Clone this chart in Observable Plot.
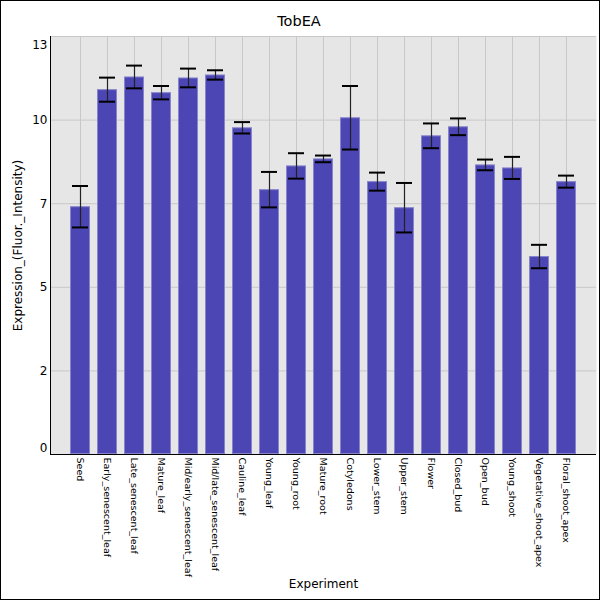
<!DOCTYPE html>
<html>
<head>
<meta charset="utf-8">
<script src="https://cdn.jsdelivr.net/npm/d3@7"></script>
<script src="https://cdn.jsdelivr.net/npm/@observablehq/plot@0.6"></script>
<style>
  html, body { margin: 0; padding: 0; background: #fff; }
  #wrap { width: 598px; height: 598px; border: 1px solid #000; overflow: hidden; background: #fff; }
  #wrap svg { display: block; font-family: "DejaVu Sans", sans-serif; }
</style>
</head>
<body>
<div id="wrap"></div>
<script>
const categories = ["Seed", "Early_senescent_leaf", "Late_senescent_leaf", "Mature_leaf",
  "Mid/early_senescent_leaf", "Mid/late_senescent_leaf", "Cauline_leaf", "Young_leaf",
  "Young_root", "Mature_root", "Cotyledons", "Lower_stem", "Upper_stem", "Flower",
  "Closed_bud", "Open_bud", "Young_shoot", "Vegetative_shoot_apex", "Floral_shoot_apex"];
const means  = [7.41, 10.91, 11.29, 10.82, 11.26, 11.35, 9.77, 7.92, 8.63, 8.84,
  10.07, 8.16, 7.38, 9.53, 9.80, 8.66, 8.57, 5.92, 8.16];
const errors = [0.62, 0.36, 0.34, 0.20, 0.28, 0.14, 0.17, 0.53, 0.38, 0.10,
  0.95, 0.27, 0.74, 0.37, 0.25, 0.16, 0.33, 0.35, 0.18];
const yTicks = [0, 2.5, 5, 7.5, 10, 12.5];
const yTickLabels = ["0", "2", "5", "7", "10", "13"];
const title = "TobEA";
const xLabel = "Experiment";
const yLabel = "Expression_(Fluor._Intensity)";

const data = categories.map((c, i) => ({cat: c, v: means[i], lo: means[i] - errors[i], hi: means[i] + errors[i]}));
const fmt = d => yTickLabels[yTicks.indexOf(d)];

const chart = Plot.plot({
  width: 598,
  height: 598,
  marginLeft: 49,
  marginRight: 3,
  marginTop: 35,
  marginBottom: 145,
  style: {fontFamily: "DejaVu Sans, sans-serif", background: "#fff"},
  x: {type: "band", domain: categories, paddingInner: 0.27, paddingOuter: 0.635, axis: null},
  y: {domain: [0, 12.5], axis: null},
  marks: [
    Plot.frame({fill: "#e6e6e6", stroke: "none"}),
    Plot.ruleY(yTicks.slice(1), {stroke: "#c8c8c8", strokeWidth: 1}),
    Plot.ruleX(categories, {stroke: "#c8c8c8", strokeWidth: 1}),
    Plot.barY(data, {x: "cat", y: "v", fill: "#4b46b4", stroke: "#8884cc", strokeWidth: 1, inset: 0.5}),
    Plot.ruleX(data, {x: "cat", y1: "lo", y2: "hi", stroke: "#222", strokeWidth: 1.2}),
    Plot.tickY(data, {x: "cat", y: "hi", stroke: "#000", strokeWidth: 2, inset: 2}),
    Plot.tickY(data, {x: "cat", y: "lo", stroke: "#000", strokeWidth: 2, inset: 2}),
    Plot.ruleY([0], {stroke: "#000", strokeWidth: 1}),
    Plot.frame({anchor: "left", stroke: "#000", strokeWidth: 1}),
    Plot.axisY([2.5, 5, 7.5, 10], {tickSize: 0, tickPadding: 3, tickFormat: fmt, fontSize: 12, fill: "#000", label: null}),
    Plot.axisY([0], {tickSize: 0, tickPadding: 3, tickFormat: fmt, fontSize: 12, fill: "#000", dy: -6, label: null}),
    Plot.axisY([12.5], {tickSize: 0, tickPadding: 3, tickFormat: fmt, fontSize: 12, fill: "#000", dy: 9, label: null}),
    Plot.axisX({tickRotate: 90, tickSize: 0, tickPadding: 3, fontSize: 9.5, fill: "#000", label: null}),
    Plot.text([yLabel], {frameAnchor: "left", rotate: -90, dx: -32, fontSize: 12, fill: "#000", textAnchor: "middle", lineAnchor: "middle"}),
    Plot.text([xLabel], {frameAnchor: "bottom", dy: 130, fontSize: 12, fill: "#000", textAnchor: "middle", lineAnchor: "middle"})
  ]
});

d3.select(chart).append("text")
  .attr("x", 298).attr("y", 20)
  .attr("text-anchor", "middle")
  .attr("dominant-baseline", "central")
  .attr("font-size", 14.5)
  .attr("fill", "#000")
  .text(title);

document.getElementById("wrap").appendChild(chart);
</script>
</body>
</html>
